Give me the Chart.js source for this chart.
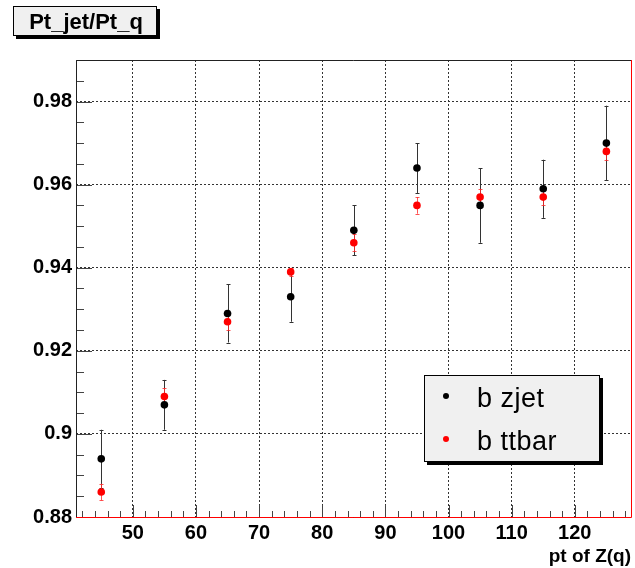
<!DOCTYPE html>
<html>
<head>
<meta charset="utf-8">
<script src="https://cdn.jsdelivr.net/npm/chart.js@4/dist/chart.umd.min.js"></script>
<style>
  body { margin: 0; background: #ffffff; }
  canvas { display: block; }
</style>
</head>
<body>
<canvas id="ratio-chart" width="635" height="568"></canvas>
<script>
// Values (bin centres in pt of Z(q))
const ptBins = [45, 55, 65, 75, 85, 95, 105, 115, 125];
const zjetRatio = [0.894, 0.907, 0.929, 0.933, 0.949, 0.964, 0.955, 0.959, 0.970];
const zjetErr = [0.007, 0.006, 0.007, 0.006, 0.006, 0.006, 0.009, 0.007, 0.009];
const ttbarRatio = [0.886, 0.909, 0.927, 0.939, 0.946, 0.955, 0.957, 0.957, 0.968];
const ttbarErr = [0.002, 0.002, 0.002, 0.001, 0.002, 0.002, 0.002, 0.002, 0.002];

const xTicks = [50, 60, 70, 80, 90, 100, 110, 120];
const yTicks = [0.88, 0.90, 0.92, 0.94, 0.96, 0.98];
const seriesNames = ['b zjet', 'b ttbar'];

const FONT = '"Liberation Sans", Arial, Helvetica, sans-serif';

// ROOT style frame: inward ticks, error bars, title box and legend
const rootFrame = {
    id: 'rootFrame',
    beforeDatasetsDraw(chart) {
        const ctx = chart.ctx;
        const area = chart.chartArea;
        const xs = chart.scales.x;
        const ys = chart.scales.y;
        ctx.save();
        ctx.strokeStyle = '#444';
        ctx.lineWidth = 1;
        ctx.beginPath();
        // x ticks every 2, major every 10
        for (let v = 42; v <= 128; v += 2) {
            const px = Math.round(xs.getPixelForValue(v)) + 0.5;
            const len = v % 10 === 0 ? 12 : 6;
            ctx.moveTo(px, area.bottom);
            ctx.lineTo(px, area.bottom - len);
        }
        // y ticks every 0.005, major every 0.02
        for (let i = 0; i <= 22; i++) {
            const v = 0.88 + i * 0.005;
            const py = Math.round(ys.getPixelForValue(v)) + 0.5;
            const len = i % 4 === 0 ? 16 : 8;
            ctx.moveTo(area.left, py);
            ctx.lineTo(area.left + len, py);
        }
        ctx.stroke();

        // error bars
        const drawBars = (vals, errs, color) => {
            ctx.strokeStyle = color;
            ctx.beginPath();
            ptBins.forEach((x, i) => {
                const px = Math.round(xs.getPixelForValue(x)) + 0.5;
                const top = ys.getPixelForValue(vals[i] + errs[i]);
                const bot = ys.getPixelForValue(vals[i] - errs[i]);
                ctx.moveTo(px, top);
                ctx.lineTo(px, bot);
                ctx.moveTo(px - 2, Math.round(top) + 0.5);
                ctx.lineTo(px + 2, Math.round(top) + 0.5);
                ctx.moveTo(px - 2, Math.round(bot) + 0.5);
                ctx.lineTo(px + 2, Math.round(bot) + 0.5);
            });
            ctx.stroke();
        };
        drawBars(zjetRatio, zjetErr, '#333');
        drawBars(ttbarRatio, ttbarErr, 'rgba(255,40,40,0.8)');
        ctx.restore();
    },
    afterDraw(chart) {
        const ctx = chart.ctx;
        const area = chart.chartArea;
        ctx.save();
        ctx.lineWidth = 1;
        // frame
        ctx.strokeStyle = '#222';
        ctx.beginPath();
        ctx.moveTo(area.left + 0.5, area.bottom);
        ctx.lineTo(area.left + 0.5, area.top + 0.5);
        ctx.lineTo(area.right, area.top + 0.5);
        ctx.stroke();
        ctx.strokeStyle = '#ff0000';
        ctx.beginPath();
        ctx.moveTo(area.left, area.bottom + 0.5);
        ctx.lineTo(area.right + 0.5, area.bottom + 0.5);
        ctx.lineTo(area.right + 0.5, area.top);
        ctx.stroke();

        // title box
        ctx.fillStyle = '#000';
        ctx.fillRect(16, 9, 144, 30);
        ctx.fillStyle = '#f0f0f0';
        ctx.fillRect(13, 6, 144, 30);
        ctx.strokeStyle = '#000';
        ctx.strokeRect(13.5, 6.5, 143, 29);
        ctx.fillStyle = '#000';
        ctx.font = 'bold 22px ' + FONT;
        ctx.textAlign = 'center';
        ctx.textBaseline = 'alphabetic';
        ctx.fillText('Pt_jet/Pt_q', 86, 29);

        // legend box
        ctx.fillStyle = '#000';
        ctx.fillRect(427, 378, 176, 87);
        ctx.fillStyle = '#f0f0f0';
        ctx.fillRect(424, 375, 176, 87);
        ctx.strokeStyle = '#000';
        ctx.strokeRect(424.5, 375.5, 175, 86);
        const colors = ['#000000', '#ff0000'];
        const rows = [396, 439];
        ctx.textAlign = 'left';
        ctx.font = '27px ' + FONT;
        ctx.letterSpacing = '0.5px';
        seriesNames.forEach((name, i) => {
            ctx.fillStyle = colors[i];
            ctx.beginPath();
            ctx.arc(446, rows[i], 3, 0, Math.PI * 2);
            ctx.fill();
            ctx.fillStyle = '#000';
            ctx.fillText(name, 477, rows[i] + 11);
        });
        ctx.restore();
    }
};

const ctxRatio = document.getElementById('ratio-chart').getContext('2d');
const ratioChart = new Chart(ctxRatio, {
    type: 'scatter',
    data: {
        datasets: [{
            label: seriesNames[0],
            data: ptBins.map((x, i) => ({ x: x, y: zjetRatio[i] })),
            backgroundColor: '#000000',
            borderColor: '#000000',
            pointRadius: 3.8,
            borderWidth: 0,
            order: 2
        }, {
            label: seriesNames[1],
            data: ptBins.map((x, i) => ({ x: x, y: ttbarRatio[i] })),
            backgroundColor: '#ff0000',
            borderColor: '#ff0000',
            pointRadius: 3.8,
            borderWidth: 0,
            order: 1
        }]
    },
    options: {
        responsive: false,
        animation: false,
        layout: { padding: { left: 0, right: 3, top: 60, bottom: 0 } },
        plugins: {
            legend: { display: false },
            tooltip: { enabled: false }
        },
        scales: {
            x: {
                type: 'linear',
                min: 41,
                max: 128.9,
                afterBuildTicks: (scale) => { scale.ticks = xTicks.map(v => ({ value: v })); },
                afterFit: (scale) => { scale.height = 51; },
                grid: { color: '#333', drawTicks: false },
                border: { display: false, dash: [2, 2] },
                ticks: {
                    padding: 4,
                    color: '#000',
                    font: { family: FONT, size: 20, weight: 'bold' }
                },
                title: {
                    display: true,
                    text: 'pt of Z(q)',
                    align: 'end',
                    color: '#000',
                    padding: 0,
                    font: { family: FONT, size: 19, weight: 'bold' }
                }
            },
            y: {
                type: 'linear',
                min: 0.88,
                max: 0.990,
                afterBuildTicks: (scale) => { scale.ticks = yTicks.map(v => ({ value: v })); },
                afterFit: (scale) => { scale.width = 76; },
                grid: { color: '#333', drawTicks: false },
                border: { display: false, dash: [2, 2] },
                ticks: {
                    padding: 4,
                    color: '#000',
                    font: { family: FONT, size: 20, weight: 'bold' },
                    callback: (v) => String(+v.toFixed(3))
                }
            }
        }
    },
    plugins: [rootFrame]
});
</script>
</body>
</html>
